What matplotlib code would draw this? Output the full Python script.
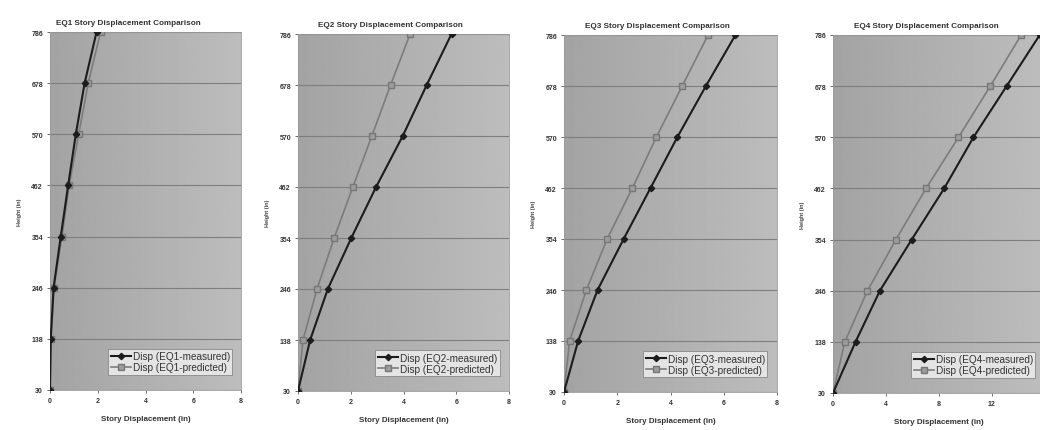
import numpy as np
import matplotlib
matplotlib.use("Agg")
import matplotlib.pyplot as plt

plt.rcParams['font.family'] = ['Liberation Sans', 'DejaVu Sans']

# story heights (in)
heights = [30, 138, 246, 354, 462, 570, 678, 786]

# story displacements (in)
eq1_measured = [0, 0.03, 0.15, 0.45, 0.76, 1.08, 1.45, 1.95]
eq1_predicted = [0, 0.04, 0.17, 0.50, 0.80, 1.20, 1.60, 2.12]
eq2_measured = [0, 0.46, 1.13, 2.02, 2.96, 3.97, 4.88, 5.82]
eq2_predicted = [0, 0.19, 0.72, 1.37, 2.08, 2.80, 3.51, 4.25]
eq3_measured = [0, 0.53, 1.26, 2.24, 3.25, 4.26, 5.33, 6.44]
eq3_predicted = [0, 0.21, 0.84, 1.62, 2.57, 3.47, 4.44, 5.41]
eq4_measured = [0, 1.70, 3.54, 5.94, 8.39, 10.6, 13.1, 15.6]
eq4_predicted = [0, 0.89, 2.60, 4.75, 7.02, 9.47, 11.87, 14.2]

names = ['EQ1', 'EQ2', 'EQ3', 'EQ4']
measured = [eq1_measured, eq2_measured, eq3_measured, eq4_measured]
predicted = [eq1_predicted, eq2_predicted, eq3_predicted, eq4_predicted]
x_max = [8, 8, 8, 16]
x_ticks = [[0, 2, 4, 6, 8], [0, 2, 4, 6, 8], [0, 2, 4, 6, 8], [0, 4, 8, 12]]

W, H = 1040, 431
# axes boxes in pixels: left, right, top, bottom
boxes = [(50, 241, 33, 391), (298, 509, 35, 392),
         (564, 777, 36, 393), (833, 1045, 36, 394)]
title_x = [0.41, 0.436, 0.44, 0.44]

fig = plt.figure(figsize=(W / 100, H / 100), dpi=100, facecolor='white')

for i in range(4):
    l, r, t, b = boxes[i]
    ax = fig.add_axes([l / W, (H - b) / H, (r - l) / W, (b - t) / H])

    # soft grey gradient like the old excel plot area
    grad = np.linspace(0, 1, 256).reshape(1, -1)
    ax.imshow(grad, cmap='gray', vmin=-6.4, vmax=3.6, extent=[0, 1, 0, 1],
              transform=ax.transAxes, aspect='auto', zorder=0)

    ax.plot(predicted[i], heights, color='#7c7c7c', lw=1.2, marker='s',
            ms=4.8, mfc='#9c9c9c', mec='#777777', zorder=3,
            label='Disp (%s-predicted)' % names[i])
    ax.plot(measured[i], heights, color='#1c1c1c', lw=1.5, marker='D',
            ms=3.2, mfc='#1c1c1c', mec='#1c1c1c', zorder=4,
            label='Disp (%s-measured)' % names[i])

    ax.set_xlim(0, x_max[i])
    ax.set_ylim(30, 786)
    ax.set_xticks(x_ticks[i])
    ax.set_yticks(heights)
    ax.grid(axis='y', color='#7e7e7e', lw=0.8, zorder=1)
    ax.set_axisbelow(True)
    ax.tick_params(labelsize=5, colors='#333333', length=2, width=0.5, pad=3)
    for lab in ax.get_xticklabels() + ax.get_yticklabels():
        lab.set_fontweight('bold')
    for s in ax.spines.values():
        s.set_color('#9a9a9a')
        s.set_linewidth(0.6)

    ax.set_title('%s Story Displacement Comparison' % names[i], x=title_x[i],
                 fontsize=5.9, fontweight='bold', color='#333333', pad=6)
    ax.set_xlabel('Story Displacement (in)', fontsize=5.8, fontweight='bold',
                  color='#333333', labelpad=8)
    ax.set_ylabel('Height (in)', fontsize=4, fontweight='bold',
                  color='#444444', labelpad=7)

    # legend: measured first, like the original
    hnd, lbl = ax.get_legend_handles_labels()
    leg = ax.legend(hnd[::-1], lbl[::-1], loc='lower right',
                    bbox_to_anchor=(0.955, 0.042), fontsize=7.2,
                    frameon=True, fancybox=False, borderpad=0.25,
                    labelspacing=0.1, handlelength=2.0, handletextpad=0.2,
                    borderaxespad=0)
    leg.get_frame().set_facecolor('#e4e4e4')
    leg.get_frame().set_edgecolor('#888888')
    leg.get_frame().set_linewidth(0.6)
    leg.get_frame().set_alpha(1)
    for tx in leg.get_texts():
        tx.set_color('#333333')

fig.savefig('out.png', dpi=100, facecolor='white')
